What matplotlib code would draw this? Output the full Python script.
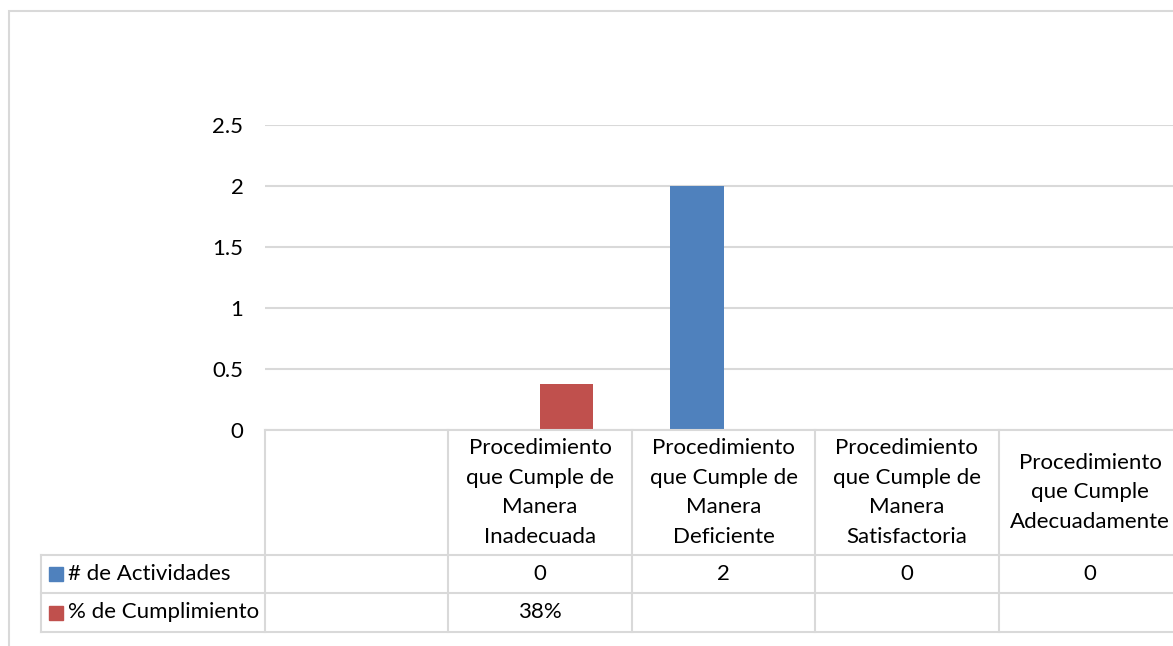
import numpy as np
import matplotlib.pyplot as plt
from matplotlib.patches import Rectangle

plt.rcParams['font.family'] = ['Lato', 'DejaVu Sans']

# datos del grafico
categorias = ["",
              "Procedimiento\nque Cumple de\nManera\nInadecuada",
              "Procedimiento\nque Cumple de\nManera\nDeficiente",
              "Procedimiento\nque Cumple de\nManera\nSatisfactoria",
              "Procedimiento\nque Cumple\nAdecuadamente"]
actividades = [np.nan, 0, 2, 0, 0]
cumplimiento = [np.nan, 0.38, np.nan, np.nan, np.nan]
texto_actividades = ["", "0", "2", "0", "0"]
texto_cumplimiento = ["", "38%", "", "", ""]
series = ["# de Actividades", "% de Cumplimiento"]
colores = ["#4f81bd", "#c0504d"]
yticks = [0, 0.5, 1, 1.5, 2, 2.5]
ytick_labels = ["0", "0.5", "1", "1.5", "2", "2.5"]

W, H = 1173, 646
fig = plt.figure(figsize=(W / 100, H / 100), dpi=100)
ax = fig.add_axes([265 / W, (H - 430) / H, (1182 - 265) / W, 305 / H])

gris = "#d9d9d9"
fs = 16

# borde del area del grafico
fig.patches.append(Rectangle((8.5 / W, -1), 2, 1 + (H - 10.5) / H, transform=fig.transFigure,
                             fill=False, edgecolor=gris, lw=1.5))

x = np.arange(len(categorias))
ancho = 0.29
ax.bar(x - ancho / 2, actividades, ancho, color=colores[0])
ax.bar(x + ancho / 2, cumplimiento, ancho, color=colores[1])

ax.set_xlim(-0.5, len(categorias) - 0.5)
ax.set_ylim(0, 2.5)
ax.set_yticks(yticks)
ax.set_yticklabels(ytick_labels)
ax.set_xticks([])
ax.tick_params(axis='y', length=0, pad=15.5, labelsize=fs)
ax.grid(axis='y', color=gris, lw=1.5)
ax.set_axisbelow(True)
for s in ax.spines.values():
    s.set_visible(False)

# tabla de datos
tr = ax.get_xaxis_transform()
h1 = -(555 - 430) / 305
h2 = -(593 - 430) / 305
h3 = -(632 - 430) / 305
xl = -0.5 + (41 - 265) / 183.4
xd = 4.6
kw = dict(transform=tr, color=gris, lw=1.5, clip_on=False)
ax.plot([-0.5, xd], [0, 0], **kw)
for yy in [h1, h2, h3]:
    ax.plot([xl, xd], [yy, yy], **kw)
for xx in np.arange(len(categorias) + 1) - 0.5:
    ax.plot([xx, xx], [0, h3], **kw)
ax.plot([xl, xl], [h1, h3], **kw)

for i, c in enumerate(categorias):
    ax.text(i, h1 / 2, c, transform=tr, ha='center', va='center',
            multialignment='center', fontsize=fs, linespacing=1.6)
    ax.text(i, (h1 + h2) / 2, texto_actividades[i], transform=tr,
            ha='center', va='center', fontsize=fs)
    ax.text(i, (h2 + h3) / 2, texto_cumplimiento[i], transform=tr,
            ha='center', va='center', fontsize=fs)

xm = -0.5 + (56 - 265) / 183.4
xt = -0.5 + (68 - 265) / 183.4
for yy, nombre, col in [((h1 + h2) / 2, series[0], colores[0]),
                        ((h2 + h3) / 2, series[1], colores[1])]:
    ax.plot([xm], [yy], marker='s', markersize=10, color=col, transform=tr, clip_on=False)
    ax.text(xt, yy, nombre, transform=tr, ha='left', va='center', fontsize=fs)

fig.savefig("out.png", dpi=100)
